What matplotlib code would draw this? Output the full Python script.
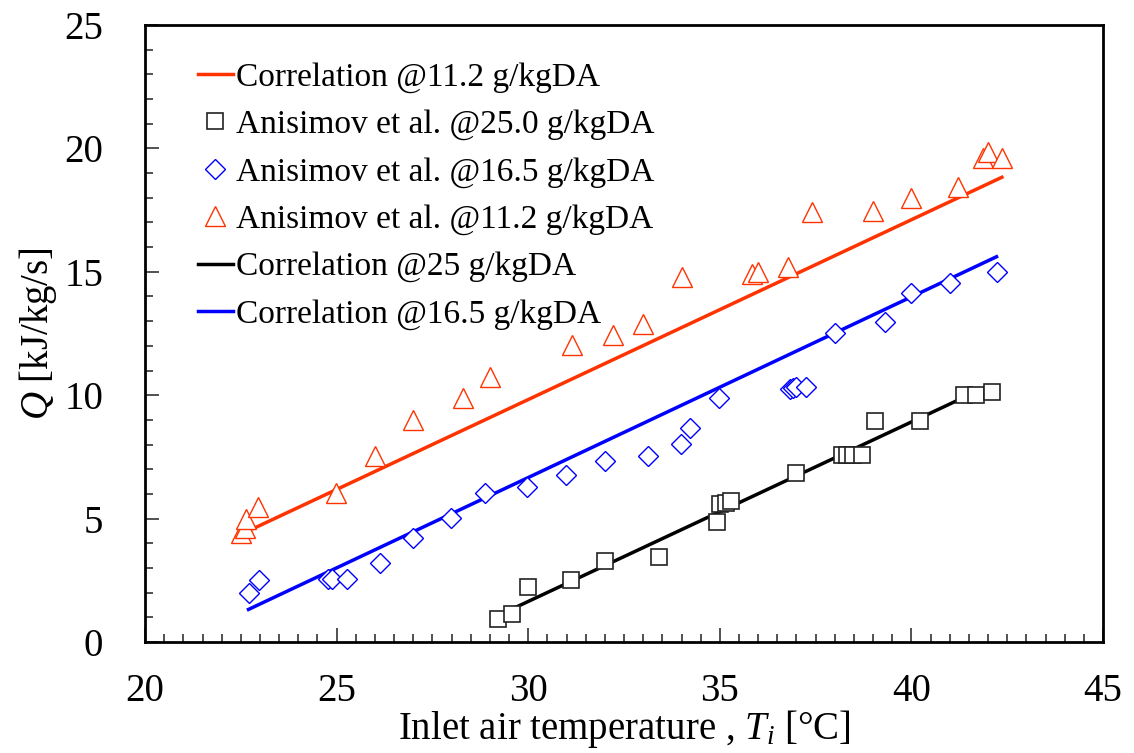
import numpy as np
import matplotlib
matplotlib.use('Agg')
import matplotlib.pyplot as plt
from matplotlib.ticker import MultipleLocator

plt.rcParams['font.family'] = 'serif'
plt.rcParams['font.serif'] = ['Liberation Serif', 'DejaVu Serif']
plt.rcParams['mathtext.fontset'] = 'custom'
plt.rcParams['mathtext.rm'] = 'Liberation Serif'
plt.rcParams['mathtext.it'] = 'Liberation Serif:italic'

# Anisimov et al. measurements
t_25 = [29.22, 29.57, 30.0, 31.11, 32.0, 33.41, 34.92, 35.0, 35.16, 35.28,
        36.99, 38.18, 38.31, 38.47, 38.70, 39.05, 40.22, 41.36, 41.69, 42.1]
q_25 = [0.92, 1.13, 2.24, 2.51, 3.29, 3.43, 4.88, 5.59, 5.65, 5.73,
        6.86, 7.58, 7.58, 7.58, 7.58, 8.97, 8.97, 10.0, 10.0, 10.14]

t_165 = [22.70, 22.98, 24.78, 24.87, 25.26, 26.12, 26.99, 27.98, 28.87, 29.98,
         30.99, 32.0, 33.12, 33.99, 34.22, 34.99, 36.83, 36.92, 36.99, 37.25,
         38.0, 39.31, 40.0, 41.0, 42.22]
q_165 = [1.97, 2.51, 2.54, 2.54, 2.54, 3.21, 4.23, 5.01, 6.02, 6.27,
         6.77, 7.35, 7.55, 8.01, 8.69, 9.9, 10.24, 10.3, 10.35, 10.35,
         12.51, 12.98, 14.16, 14.56, 14.98]

t_112 = [22.50, 22.60, 22.64, 22.95, 24.98, 26.0, 27.0, 28.3, 29.0, 31.13,
         32.2, 33.0, 34.0, 35.83, 36.0, 36.79, 37.4, 39.0, 40.0, 41.22,
         41.86, 42.0, 42.36]
q_112 = [4.4, 4.6, 5.0, 5.47, 6.02, 7.55, 9.0, 9.87, 10.75, 12.03,
         12.44, 12.9, 14.8, 14.91, 14.98, 15.2, 17.41, 17.48, 17.98, 18.45,
         19.6, 19.87, 19.6]

# correlation lines (end points)
corr_t_112 = [22.83, 42.36]
corr_q_112 = [4.6, 18.83]
corr_t_165 = [22.70, 42.22]
corr_q_165 = [1.32, 15.61]
corr_t_25 = [29.61, 42.0]
corr_q_25 = [1.36, 10.37]

red = '#FF3300'
blue = '#0000FF'

fig = plt.figure(figsize=(11.34, 7.53), dpi=100)
ax = fig.add_axes([0.1279, 0.1474, 0.8448, 0.8194])

l_red, = ax.plot(corr_t_112, corr_q_112, color=red, lw=2.5, zorder=2)
l_blk, = ax.plot(corr_t_25, corr_q_25, color='black', lw=2.5, zorder=2)
l_blu, = ax.plot(corr_t_165, corr_q_165, color=blue, lw=2.5, zorder=2)

m_sq, = ax.plot(t_25, q_25, 's', ms=12, mfc='white', mec='#222222', mew=1.2,
                ls='none', zorder=3)
m_di, = ax.plot(t_165, q_165, 'D', ms=10, mfc='white', mec=blue, mew=1.0,
                ls='none', zorder=3)
m_tr, = ax.plot(t_112, q_112, '^', ms=15, mfc='white', mec=red, mew=1.0,
                ls='none', zorder=3)

ax.set_xlim(20, 45)
ax.set_ylim(0, 25)
ax.xaxis.set_major_locator(MultipleLocator(5))
ax.xaxis.set_minor_locator(MultipleLocator(0.5))
ax.yaxis.set_major_locator(MultipleLocator(5))
ax.yaxis.set_minor_locator(MultipleLocator(1))
ax.tick_params(which='both', direction='in', top=False, right=False,
               labelsize=28, width=1.2, color='#333333')
ax.tick_params(axis='x', which='major', length=10, pad=22)
ax.tick_params(axis='y', which='major', length=10, pad=30)
ax.tick_params(which='minor', length=6)
for s in ax.spines.values():
    s.set_linewidth(2)

ax.set_xlabel('Inlet air temperature , $T_i$ [°C]', fontsize=28, labelpad=-1)
ax.set_ylabel('$Q$ [kJ/kg/s]', fontsize=28, labelpad=4)

ax.legend([l_red, m_sq, m_di, m_tr, l_blk, l_blu],
          ['Correlation @11.2 g/kgDA', 'Anisimov et al. @25.0 g/kgDA',
           'Anisimov et al. @16.5 g/kgDA', 'Anisimov et al. @11.2 g/kgDA',
           'Correlation @25 g/kgDA', 'Correlation @16.5 g/kgDA'],
          loc='upper left', bbox_to_anchor=(0.055, 0.94), frameon=False,
          fontsize=24, handlelength=1.05, handletextpad=0.1,
          labelspacing=0.5, borderaxespad=0, borderpad=0)

fig.savefig('out.png', dpi=100)
